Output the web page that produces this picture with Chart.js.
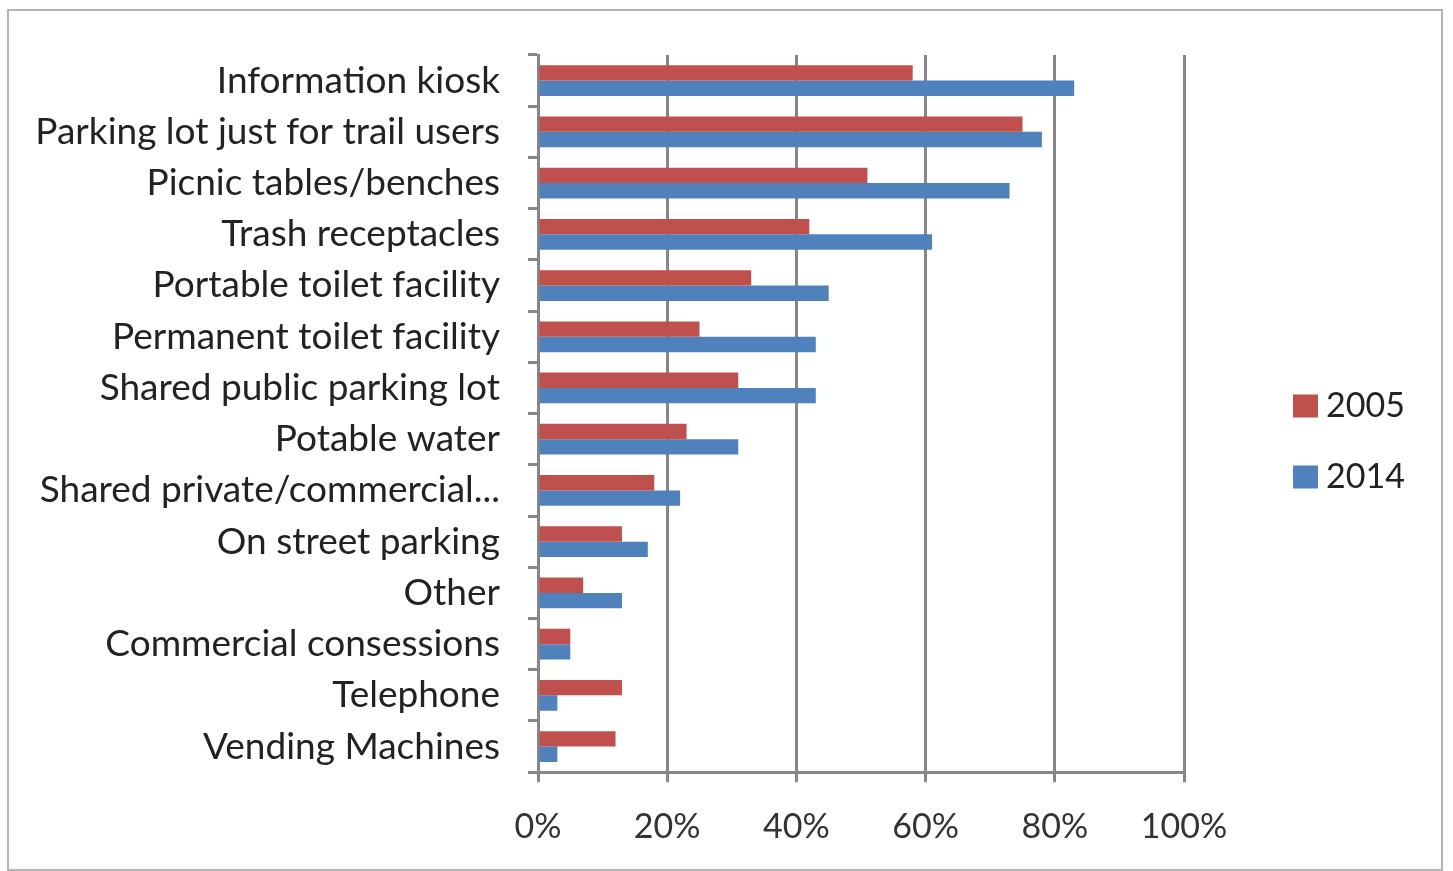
<!DOCTYPE html>
<html>
<head>
<meta charset="utf-8">
<script src="https://cdn.jsdelivr.net/npm/chart.js@4"></script>
<style>
  body { margin: 0; background: #fff; }
  #frame { position: absolute; left: 7px; top: 9px; width: 1436px; height: 862px; border: 2px solid #b4b4b4; box-sizing: border-box; }
  #myChart { position: absolute; left: 0; top: 0; }
</style>
</head>
<body>
<div id="frame"></div>
<canvas id="myChart" width="1453" height="871"></canvas>
<script>
const categories = [
  'Information kiosk',
  'Parking lot just for trail users',
  'Picnic tables/benches',
  'Trash receptacles',
  'Portable toilet facility',
  'Permanent toilet facility',
  'Shared public parking lot',
  'Potable water',
  'Shared private/commercial...',
  'On street parking',
  'Other',
  'Commercial consessions',
  'Telephone',
  'Vending Machines'
];
const values2005 = [58, 75, 51, 42, 33, 25, 31, 23, 18, 13, 7, 5, 13, 12];
const values2014 = [83, 78, 73, 61, 45, 43, 43, 31, 22, 17, 13, 5, 3, 3];
const xTicks = [0, 20, 40, 60, 80, 100];

const gridGrey = '#868686';
const fontFamily = 'Lato, "Open Sans", sans-serif';

// legend drawn beside the plot, like the Excel original
const sideLegend = {
  id: 'sideLegend',
  afterDraw(chart) {
    const c = chart.ctx;
    const x = chart.chartArea.right + 109;
    const mid = chart.height / 2 + 5;
    c.save();
    c.font = '34px ' + fontFamily;
    c.textBaseline = 'middle';
    chart.data.datasets.forEach((ds, i) => {
      const y = mid - 35 + i * 71;
      c.fillStyle = ds.backgroundColor;
      c.fillRect(x, y - 11, 25, 23);
      c.fillStyle = '#222';
      c.fillText(ds.label, x + 33, y + 1);
    });
    c.restore();
  }
};

const ctx = document.getElementById('myChart');
new Chart(ctx, {
  type: 'bar',
  data: {
    labels: categories,
    datasets: [
      {
        label: '2005',
        data: values2005,
        backgroundColor: '#c0504d',
        categoryPercentage: 0.6,
        barPercentage: 1
      },
      {
        label: '2014',
        data: values2014,
        backgroundColor: '#4f81bd',
        categoryPercentage: 0.6,
        barPercentage: 1
      }
    ]
  },
  options: {
    indexAxis: 'y',
    responsive: false,
    animation: false,
    layout: { padding: { left: 0, top: 55, right: 269, bottom: 0 } },
    plugins: {
      tooltip: { enabled: false },
      legend: { display: false }
    },
    scales: {
      x: {
        min: 0,
        max: 100,
        afterBuildTicks: (axis) => { axis.ticks = xTicks.map(v => ({ value: v })); },
        ticks: {
          callback: (v) => v + '%',
          font: { family: fontFamily, size: 34 },
          color: '#333',
          padding: 24
        },
        grid: { color: gridGrey, lineWidth: 3, tickLength: 10 },
        border: { color: gridGrey, width: 3 }
      },
      y: {
        afterFit: (axis) => { axis.width = 538; },
        ticks: {
          font: { family: fontFamily, size: 37 },
          color: '#222',
          padding: 28,
          autoSkip: false
        },
        grid: { color: gridGrey, lineWidth: 3, tickLength: 10, drawOnChartArea: false, offset: true },
        border: { color: gridGrey, width: 3 }
      }
    }
  },
  plugins: [sideLegend]
});
</script>
</body>
</html>
